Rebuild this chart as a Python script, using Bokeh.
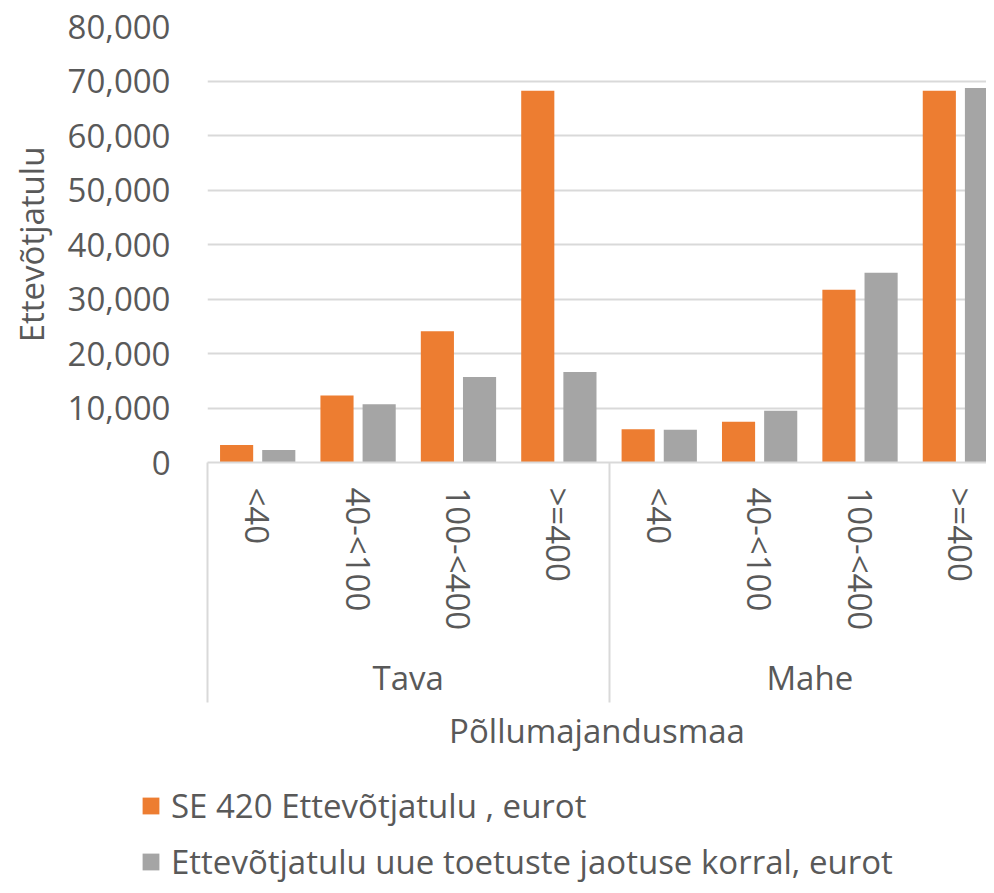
from bokeh.plotting import figure
from bokeh.layouts import column
from bokeh.models import (Range1d, LinearAxis, FixedTicker, NumeralTickFormatter,
                          ColumnDataSource, Legend, LegendItem)
from bokeh.embed import file_html
from bokeh.resources import INLINE

# ---- data ----
groups = ["Tava", "Mahe"]
categories = ["<40", "40-<100", "100-<400", ">=400"]
series_names = ["SE 420 Ettevõtjatulu , eurot",
                "Ettevõtjatulu uue toetuste jaotuse korral, eurot"]
se420 = [3200, 12300, 24100, 68200, 6100, 7500, 31700, 68200]
uus = [2300, 10700, 15700, 16600, 6000, 9500, 34800, 68700]
y_ticks = [0, 10000, 20000, 30000, 40000, 50000, 60000, 70000, 80000]

ORANGE = "#ed7d31"
GRAY = "#a5a5a5"
TXT = "#595959"
LINE = "#d9d9d9"
FONT = "Open Sans"

n_cat = len(groups) * len(categories)
# each category occupies 2 x-units; centre at 2*i+1
centers = [2 * i + 1 for i in range(n_cat)]
labels = [c for g in groups for c in categories]
bounds = [len(categories) * 2 * i for i in range(len(groups) + 1)]
off = 0.42
bw = 0.66

src = ColumnDataSource(dict(
    x1=[c - off for c in centers], x2=[c + off for c in centers],
    a=se420, b=uus))

p = figure(width=986, height=760, output_backend="svg", toolbar_location=None,
           x_range=Range1d(0, 15.52), y_range=Range1d(0, 80000),
           min_border_left=207, min_border_right=0, min_border_top=26,
           min_border_bottom=298, x_axis_type=None)
p.outline_line_color = None
p.background_fill_color = "white"
p.border_fill_color = "white"

r1 = p.vbar(x="x1", top="a", width=bw, source=src, fill_color=ORANGE, line_color=None)
r2 = p.vbar(x="x2", top="b", width=bw, source=src, fill_color=GRAY, line_color=None)

# y axis
ya = p.yaxis[0]
ya.ticker = FixedTicker(ticks=y_ticks)
ya.formatter = NumeralTickFormatter(format="0,0")
ya.axis_line_color = None
ya.major_tick_out = 0
ya.major_tick_in = 0
ya.minor_tick_out = 0
ya.minor_tick_in = 0
ya.major_tick_line_color = None
ya.minor_tick_line_color = None
ya.major_label_standoff = 37
ya.major_label_text_font = FONT
ya.major_label_text_font_size = "33px"
ya.major_label_text_color = TXT
ya.axis_label = "Ettevõtjatulu"
ya.axis_label_text_font = FONT
ya.axis_label_text_font_size = "33px"
ya.axis_label_text_font_style = "normal"
ya.axis_label_text_color = TXT
ya.axis_label_standoff = 11

p.xgrid.visible = False
p.ygrid.ticker = FixedTicker(ticks=y_ticks)
p.ygrid.grid_line_color = LINE
p.ygrid.grid_line_width = 2

# category axis
cat_axis = LinearAxis(
    ticker=FixedTicker(ticks=centers),
    major_label_overrides={c: l for c, l in zip(centers, labels)},
    major_label_orientation="vertical",
    major_tick_out=0, major_tick_in=0, minor_tick_out=0, minor_tick_in=0,
    major_tick_line_color=None, minor_tick_line_color=None,
    axis_line_color=LINE, axis_line_width=2,
    major_label_standoff=25,
    major_label_text_font=FONT, major_label_text_font_size="33px",
    major_label_text_color=TXT)
p.add_layout(cat_axis, "below")

# group axis
gcent = [len(categories) + 2 * len(categories) * i for i in range(len(groups))]
grp_axis = LinearAxis(
    ticker=FixedTicker(ticks=gcent),
    major_label_overrides={c: g for c, g in zip(gcent, groups)},
    major_tick_out=0, major_tick_in=0, minor_tick_out=0, minor_tick_in=0,
    axis_line_color=None, major_tick_line_color=None, minor_tick_line_color=None,
    major_label_standoff=21,
    major_label_text_font=FONT, major_label_text_font_size="33px",
    major_label_text_color=TXT)
p.add_layout(grp_axis, "below")

# axis title + group separators
title_axis = LinearAxis(
    ticker=FixedTicker(ticks=[], minor_ticks=bounds),
    major_tick_out=0, major_tick_in=0,
    minor_tick_out=0, minor_tick_in=240,
    minor_tick_line_color=LINE, minor_tick_line_width=2,
    major_tick_line_color=None, axis_line_color=None,
    major_label_standoff=0, major_label_text_font_size="0px",
    axis_label="Põllumajandusmaa", axis_label_standoff=5,
    axis_label_text_font=FONT, axis_label_text_font_size="33px",
    axis_label_text_font_style="normal", axis_label_text_color=TXT)
p.add_layout(title_axis, "below")

# ---- legend strip ----
lf = figure(width=986, height=125, output_backend="svg", toolbar_location=None,
            x_range=Range1d(0, 1), y_range=Range1d(0, 1),
            x_axis_type=None, y_axis_type=None, min_border=0)
lf.outline_line_color = None
lf.xgrid.visible = False
lf.ygrid.visible = False
leg_x = 140
if "frame_align" in lf.properties():
    lf.frame_align = False
    p.frame_align = False
else:
    leg_x = 140 - 207
l1 = lf.vbar(x="x1", top="a", width=bw, source=src, fill_color=ORANGE,
             line_color=None, visible=False)
l2 = lf.vbar(x="x2", top="b", width=bw, source=src, fill_color=GRAY,
             line_color=None, visible=False)
legend = Legend(items=[LegendItem(label=series_names[0], renderers=[l1]),
                       LegendItem(label=series_names[1], renderers=[l2])],
                location=(leg_x, 1), orientation="vertical",
                glyph_width=21, glyph_height=21, label_standoff=10,
                label_height=44, spacing=11, padding=0, margin=0,
                border_line_color=None, background_fill_alpha=0,
                label_text_font=FONT, label_text_font_size="33px",
                label_text_color=TXT)
lf.add_layout(legend, "center")

open("out.html", "w").write(file_html(column(p, lf), INLINE))
